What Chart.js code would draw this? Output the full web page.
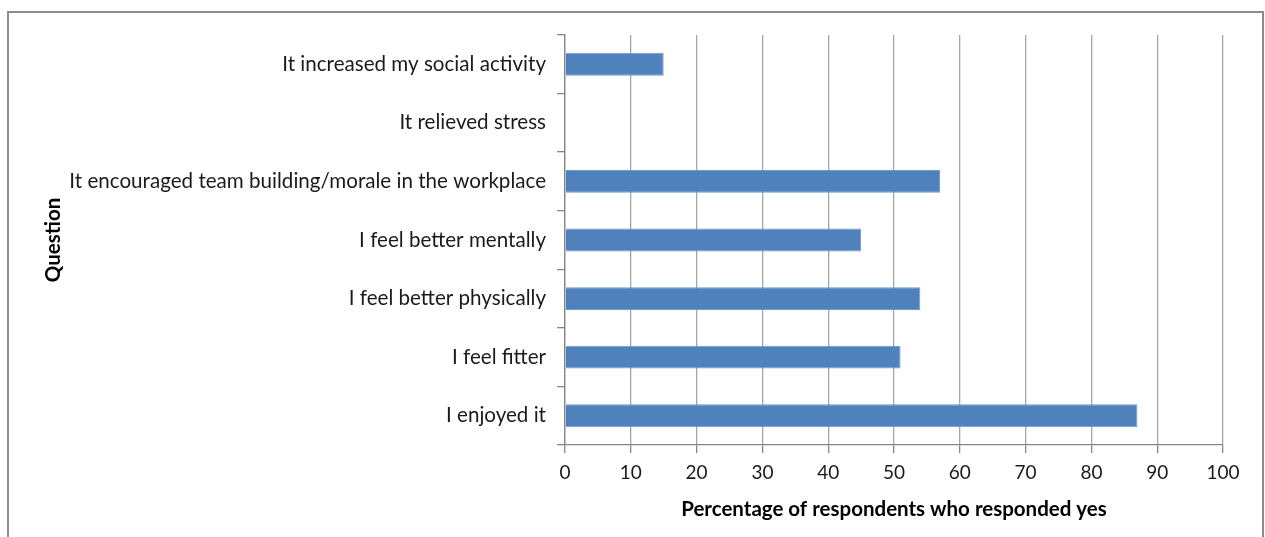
<!DOCTYPE html>
<html>
<head>
<meta charset="utf-8">
<script src="https://cdn.jsdelivr.net/npm/chart.js@4"></script>
<style>
  html, body { margin: 0; padding: 0; background: #fff; }
  #wrap { position: relative; width: 1265px; height: 537px; }
  #frame { position: absolute; left: 7px; top: 11px; width: 1257px; height: 540px; border: 2px solid #8c8c8c; box-sizing: border-box; pointer-events: none; }
  canvas { display: block; }
</style>
</head>
<body>
<div id="wrap">
  <canvas id="c" width="1265" height="537"></canvas>
  <div id="frame"></div>
</div>
<script>
const categories = [
  "It increased my social activity",
  "It relieved stress",
  "It encouraged team building/morale in the workplace",
  "I feel better mentally",
  "I feel better physically",
  "I feel fitter",
  "I enjoyed it"
];
const values = [15, 0, 57, 45, 54, 51, 87];
const xTicks = [0, 10, 20, 30, 40, 50, 60, 70, 80, 90, 100];
const xTitle = "Percentage of respondents who responded yes";
const yTitle = "Question";

const FONT = "Lato, 'Open Sans', sans-serif";

new Chart(document.getElementById('c'), {
  type: 'bar',
  data: {
    labels: categories,
    datasets: [{
      data: values,
      backgroundColor: '#4F81BD',
      borderColor: '#6f98cc',
      borderWidth: 1,
      categoryPercentage: 0.39,
      barPercentage: 1.0
    }]
  },
  options: {
    indexAxis: 'y',
    responsive: false,
    animation: false,
    devicePixelRatio: 1,
    layout: { padding: { left: 41, right: 42, top: 35, bottom: 15 } },
    plugins: { legend: { display: false }, tooltip: { enabled: false } },
    scales: {
      x: {
        min: 0, max: 100,
        afterBuildTicks: (s) => { s.ticks = xTicks.map(v => ({ value: v })); },
        grid: { color: '#a6a6a6', lineWidth: 1.3, tickLength: 8, drawTicks: true, tickColor: '#868686' },
        border: { color: '#868686', width: 1.3 },
        ticks: { color: '#1a1a1a', font: { family: FONT, size: 19 }, padding: 8, maxRotation: 0 },
        title: { display: true, text: xTitle, color: '#000', font: { family: FONT, size: 20.5, weight: 'bold' }, padding: { top: 4, bottom: 0 } },
        afterFit: (s) => { s.height = 77; }
      },
      y: {
        offset: true,
        grid: { offset: true, drawOnChartArea: false, tickLength: 8, color: '#868686', lineWidth: 1.3 },
        border: { color: '#868686', width: 1.3 },
        ticks: { color: '#1a1a1a', font: { family: FONT, size: 20.6 }, padding: 11, autoSkip: false },
        title: { display: true, text: yTitle, color: '#000', font: { family: FONT, size: 20.5, weight: 'bold' }, padding: { top: 0, bottom: 0 } },
        afterFit: (s) => { s.width = 524; }
      }
    }
  }
});
</script>
</body>
</html>
